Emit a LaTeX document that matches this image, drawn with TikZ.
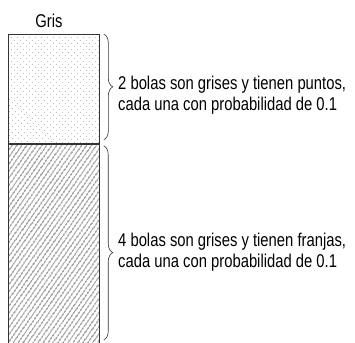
\documentclass[tikz,border=0pt]{standalone}
\usepackage{fontspec}
\setmainfont{Liberation Sans}[FakeStretch=0.8]
\usepackage{tikz}
\usetikzlibrary{patterns.meta,decorations.pathreplacing,positioning}

\begin{document}
\begin{tikzpicture}[x=1pt,y=-1pt]

\tikzset{
  ballbox/.style={draw=black!80, line width=0.8pt, minimum width=91pt, inner sep=0pt},
  dotfill/.style={pattern={Dots[distance=4pt, radius=0.35pt, angle=45]}, pattern color=black!60},
  hatchfill/.style={pattern={Lines[angle=55, distance=4pt, line width=0.75pt]}, pattern color=black},
  groupbrace/.style={decorate, decoration={brace, amplitude=9pt}, black!80, line width=0.6pt},
  blabel/.style={font=\fontsize{18.5}{21}\selectfont, align=left, anchor=west, inner sep=0pt}
}

\useasboundingbox (0,0) rectangle (355,342);

% Boxes
\node[ballbox, dotfill, minimum height=109pt, anchor=north west] (dotbox) at (8,34) {};
\node[ballbox, hatchfill, minimum height=210pt, anchor=north west] (hatchbox) at (dotbox.south west) {};
\node[font=\fontsize{18.5}{21}\selectfont, anchor=base] (gris) at (49,28) {Gris};

% Braces
\draw[groupbrace] ([xshift=4pt]dotbox.north east) -- ([xshift=4pt,yshift=4pt]dotbox.south east) coordinate[pos=0.5] (dotmid);
\draw[groupbrace, decoration={aspect=0.55}] ([xshift=4pt,yshift=-2pt]hatchbox.north east) -- ([xshift=4pt]hatchbox.north east |- 0,340) coordinate[pos=0.55] (hatchmid);

% Labels
\node[blabel] (dottext) at (118,95) {2 bolas son grises y tienen puntos,\\cada una con probabilidad de 0.1};
\node[blabel] (hatchtext) at (118,252) {4 bolas son grises y tienen franjas,\\cada una con probabilidad de 0.1};

\end{tikzpicture}
\end{document}
